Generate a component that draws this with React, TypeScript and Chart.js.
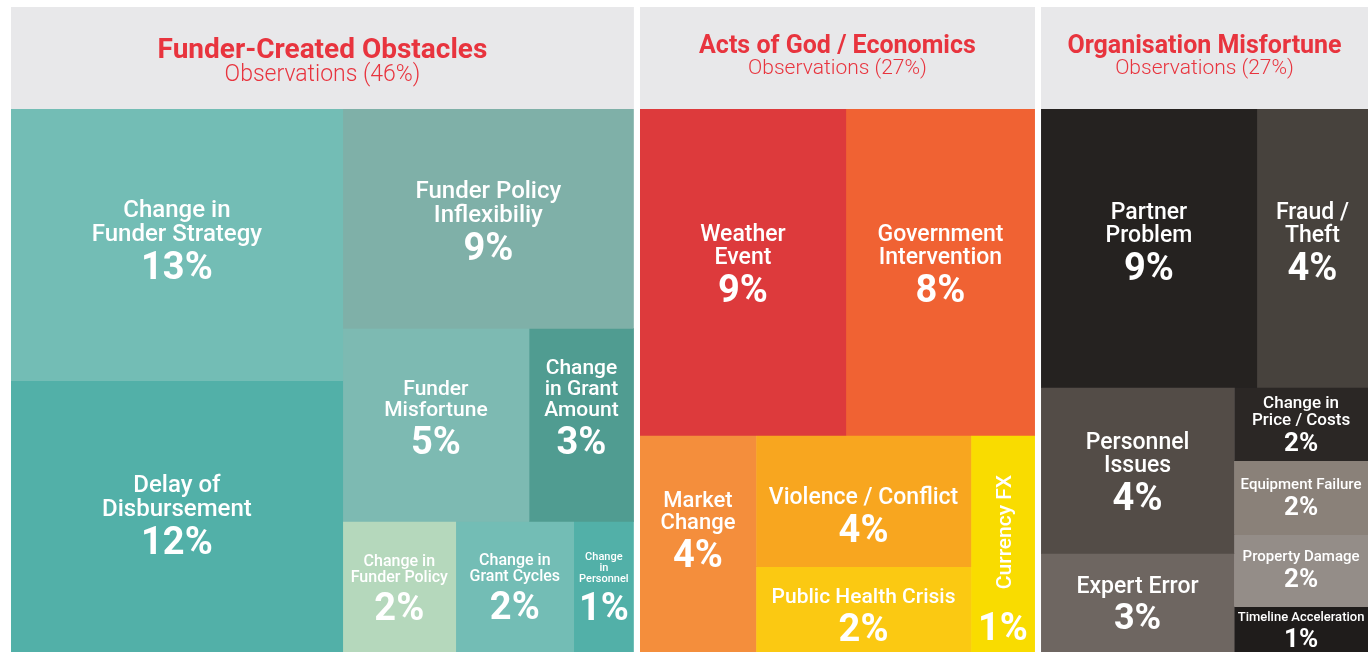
import React, { useEffect, useRef } from "react";
import { Chart, registerables } from "chart.js";

Chart.register(...registerables);

// ---------- DATA ----------
const groupNames = ["Funder-Created Obstacles", "Acts of God / Economics", "Organisation Misfortune"];
const groupShareLabels = [46, 27, 27];

const funderCategories = [
  "Change in\nFunder Strategy",
  "Delay of\nDisbursement",
  "Funder Policy\nInflexibiliy",
  "Funder\nMisfortune",
  "Change\nin Grant\nAmount",
  "Change in\nFunder Policy",
  "Change in\nGrant Cycles",
  "Change\nin\nPersonnel",
];
const funderPct = [13, 12, 9, 5, 3, 2, 2, 1];
const funderArea = [12.32, 12.36, 8.73, 4.92, 2.77, 2.03, 2.12, 1.08];

const actsCategories = [
  "Weather\nEvent",
  "Government\nIntervention",
  "Market\nChange",
  "Violence / Conflict",
  "Public Health Crisis",
  "Currency FX",
];
const actsPct = [9, 8, 4, 4, 2, 1];
const actsArea = [9.2, 8.44, 3.45, 3.86, 2.53, 1.9];

const orgCategories = [
  "Partner\nProblem",
  "Fraud /\nTheft",
  "Personnel\nIssues",
  "Expert Error",
  "Change in\nPrice / Costs",
  "Equipment Failure",
  "Property Damage",
  "Timeline Acceleration",
];
const orgPct = [9, 4, 4, 3, 2, 2, 2, 1];
const orgArea = [8.22, 4.23, 4.39, 2.62, 1.34, 1.36, 1.32, 0.84];

// ---------- STYLE ----------
const funderColors = ["#73bdb5", "#52b0a8", "#7fb0a8", "#7dbab2", "#509c91", "#b5d8bc", "#73bdb5", "#52b0a8"];
const actsColors = ["#dd3a3c", "#f06233", "#f48e3c", "#f8a61f", "#fbc912", "#f9dc00"];
const orgColors = ["#252220", "#47423d", "#534c47", "#6e6661", "#2b2725", "#8a8179", "#948d88", "#1f1c1b"];

// [labelSize, pctSize, rotate, dy]
const funderStyles = [[24, 38, 0, -5], [24, 38, 0, -2], [24, 38, 0, 2], [21, 38, 0, -7], [21, 38, 0, -18], [16, 38, 0, 1], [16, 38, 0, 0], [11, 38, 0, 0]];
const actsStyles = [[23, 38, 0, -9], [23, 38, 0, -9], [22, 38, 0, -14], [23, 38, 0, 14], [21, 38, 0, 5], [21, 38, 1, 14]];
const orgStyles = [[23, 38, 0, -7], [23, 38, 0, -7], [23, 38, 0, 1], [23, 36, 0, 0], [17, 26, 0, 0], [15, 26, 0, 0], [15, 26, 0, -2], [13, 26, 0, 0]];

const titleSizes = [28, 25, 25];
const subSizes = [23, 21, 21];
const titleBase = [51, 46, 46];
const subBase = [74, 67, 67];

const HEADER_BG = "#e8e8ea";
const TITLE_COLOR = "#e8343e";
const HEADER = 0.188; // header height relative to the cell area
const GAP = 0.45; // gap between panels, in area units
const EPS_X = 0.03;
const EPS_Y = 0.0015;
const FONT = "Roboto, 'Noto Sans', sans-serif";

// layout trees: numbers are category indices, h = side by side, v = stacked
type Node = number | { d: "h" | "v"; c: Node[] };
const funderTree: Node = { d: "h", c: [{ d: "v", c: [0, 1] }, { d: "v", c: [2, { d: "h", c: [3, 4] }, { d: "h", c: [5, 6, 7] }] }] };
const actsTree: Node = { d: "v", c: [{ d: "h", c: [0, 1] }, { d: "h", c: [2, { d: "v", c: [3, 4] }, 5] }] };
const orgTree: Node = { d: "v", c: [{ d: "h", c: [0, 1] }, { d: "h", c: [{ d: "v", c: [2, 3] }, { d: "v", c: [4, 5, 6, 7] }] }] };

const panels = [
  { cats: funderCategories, pct: funderPct, area: funderArea, colors: funderColors, styles: funderStyles, tree: funderTree },
  { cats: actsCategories, pct: actsPct, area: actsArea, colors: actsColors, styles: actsStyles, tree: actsTree },
  { cats: orgCategories, pct: orgPct, area: orgArea, colors: orgColors, styles: orgStyles, tree: orgTree },
];

type Rect = { x0: number; x1: number; y0: number; y1: number };

function weightOf(node: Node, area: number[]): number {
  if (typeof node === "number") return area[node];
  return node.c.reduce((s, n) => s + weightOf(n, area), 0);
}

function layout(node: Node, area: number[], r: Rect, out: Rect[]) {
  if (typeof node === "number") {
    out[node] = r;
    return;
  }
  const total = weightOf(node, area);
  let acc = 0;
  for (const child of node.c) {
    const w = weightOf(child, area) / total;
    if (node.d === "h") {
      layout(child, area, { x0: r.x0 + (r.x1 - r.x0) * acc, x1: r.x0 + (r.x1 - r.x0) * (acc + w), y0: r.y0, y1: r.y1 }, out);
    } else {
      layout(child, area, { x0: r.x0, x1: r.x1, y0: r.y0 + (r.y1 - r.y0) * acc, y1: r.y0 + (r.y1 - r.y0) * (acc + w) }, out);
    }
    acc += w;
  }
}

type Cell = Rect & { label: string; pct: number; color: string; style: number[] };
type Panel = { x0: number; x1: number; name: string; share: number; idx: number };

function buildLayout() {
  const cells: Cell[] = [];
  const heads: Panel[] = [];
  let x = 0;
  panels.forEach((p, pi) => {
    const tot = p.area.reduce((a, b) => a + b, 0);
    const px0 = x;
    const px1 = x + tot;
    heads.push({ x0: px0, x1: px1, name: groupNames[pi], share: groupShareLabels[pi], idx: pi });
    const rects: Rect[] = [];
    layout(p.tree, p.area, { x0: px0, x1: px1, y0: 0, y1: 1 }, rects);
    rects.forEach((r, i) => {
      cells.push({ ...r, label: p.cats[i], pct: p.pct[i], color: p.colors[i], style: p.styles[i] });
    });
    x = px1 + GAP;
  });
  const xMax = x - GAP;
  return { cells, heads, xMax };
}

const labelPlugin = {
  id: "treemapLabels",
  afterDatasetsDraw(chart: any) {
    const { ctx, scales } = chart;
    const xs = scales.x;
    const ys = scales.y;
    const { cells, heads } = chart.options.plugins.treemapLabels;
    ctx.save();
    heads.forEach((h: Panel) => {
      const cx = (xs.getPixelForValue(h.x0) + xs.getPixelForValue(h.x1)) / 2;
      const top = ys.getPixelForValue(1 + HEADER);
      ctx.fillStyle = TITLE_COLOR;
      ctx.textAlign = "center";
      ctx.textBaseline = "alphabetic";
      ctx.font = `700 ${titleSizes[h.idx]}px ${FONT}`;
      ctx.fillText(h.name, cx, top + titleBase[h.idx]);
      ctx.font = `300 ${subSizes[h.idx]}px ${FONT}`;
      ctx.fillText(`Observations (${h.share}%)`, cx, top + subBase[h.idx]);
    });
    cells.forEach((c: Cell) => {
      const px0 = xs.getPixelForValue(c.x0);
      const px1 = xs.getPixelForValue(c.x1);
      const py0 = ys.getPixelForValue(1 - c.y0);
      const py1 = ys.getPixelForValue(1 - c.y1);
      const cx = (px0 + px1) / 2;
      const cy = (py0 + py1) / 2;
      const [L, P, rot, dy] = c.style;
      const lines = c.label.split("\n");
      ctx.fillStyle = "#ffffff";
      ctx.textAlign = "center";
      ctx.textBaseline = "alphabetic";
      if (rot) {
        ctx.font = `500 ${L}px ${FONT}`;
        const tw = ctx.measureText(c.label).width;
        const gap = 24;
        const H = tw + gap + 0.71 * P;
        const top = cy - H / 2 + (dy || 0);
        ctx.save();
        ctx.translate(cx + 0.36 * L, top + tw / 2);
        ctx.rotate(-Math.PI / 2);
        ctx.fillText(c.label, 0, 0);
        ctx.restore();
        ctx.font = `700 ${P}px ${FONT}`;
        ctx.fillText(`${c.pct}%`, cx, top + H);
        return;
      }
      const inkH = 0.71 * L + (lines.length - 1) * L + P;
      const b1 = cy - inkH / 2 + 0.71 * L + (dy || 0);
      ctx.font = `500 ${L}px ${FONT}`;
      lines.forEach((ln, i) => ctx.fillText(ln, cx, b1 + i * L));
      ctx.font = `700 ${P}px ${FONT}`;
      ctx.fillText(`${c.pct}%`, cx, b1 + (lines.length - 1) * L + P);
    });
    ctx.restore();
  },
};

export default function App() {
  const ref = useRef<HTMLCanvasElement>(null);
  useEffect(() => {
    document.body.style.overflow = "hidden";
    const { cells, heads, xMax } = buildLayout();
    const datasets: any[] = [];
    cells.forEach((c) => {
      const panel = heads.find((h) => c.x0 >= h.x0 - 1e-9 && c.x1 <= h.x1 + 1e-9)!;
      const x1 = c.x1 < panel.x1 - 1e-6 ? c.x1 + EPS_X : c.x1;
      const yb = c.y1 < 1 - 1e-6 ? c.y1 + EPS_Y : c.y1;
      datasets.push({
        data: [
          { x: c.x0, y: 1 - c.y0 },
          { x: x1, y: 1 - c.y0 },
        ],
        fill: { value: 1 - yb },
        backgroundColor: c.color,
        borderColor: "rgba(0,0,0,0)",
        borderWidth: 0,
        pointRadius: 0,
      });
    });
    heads.forEach((h) => {
      datasets.push({
        data: [
          { x: h.x0, y: 1 + HEADER },
          { x: h.x1, y: 1 + HEADER },
        ],
        fill: { value: 1 },
        backgroundColor: HEADER_BG,
        borderColor: "rgba(0,0,0,0)",
        borderWidth: 0,
        pointRadius: 0,
      });
    });
    const chart = new Chart(ref.current!, {
      type: "line",
      data: { datasets },
      options: {
        animation: false,
        responsive: true,
        maintainAspectRatio: false,
        events: [],
        layout: { padding: { left: 11, top: 7, right: 0, bottom: 0 } },
        scales: {
          x: { type: "linear", min: 0, max: xMax, display: false },
          y: { type: "linear", min: 0, max: 1 + HEADER, display: false },
        },
        elements: { line: { tension: 0 }, point: { radius: 0 } },
        plugins: {
          legend: { display: false },
          tooltip: { enabled: false },
          treemapLabels: { cells, heads },
        } as any,
      },
      plugins: [labelPlugin],
    });
    return () => chart.destroy();
  }, []);
  return (
    <div style={{ position: "absolute", left: 0, top: 0, width: 1368, height: 652 }}>
      <canvas ref={ref} />
    </div>
  );
}
